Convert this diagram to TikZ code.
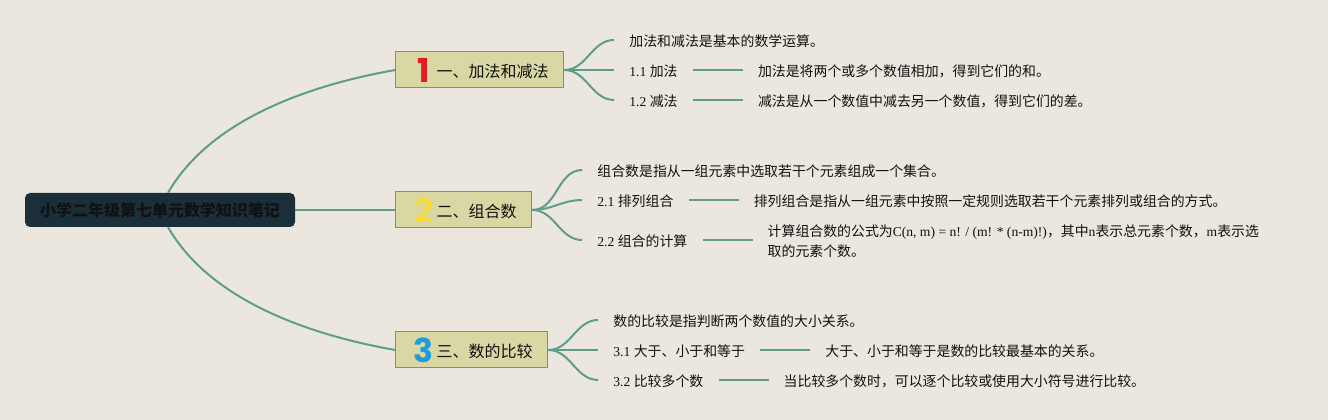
\documentclass[tikz,border=0pt]{standalone}
\usepackage{fontspec}
\usetikzlibrary{positioning}
\setmainfont{Liberation Serif}
\newfontfamily\zhfont{Noto Sans CJK SC}
\newfontfamily\numfont{Poppins}
\definecolor{paper}{HTML}{EBE7DF}
\definecolor{linegreen}{HTML}{5F9C8A}
\definecolor{rootfill}{HTML}{1A2F3A}
\definecolor{topicfill}{HTML}{D9D8A5}
\definecolor{inkblack}{HTML}{111111}
\definecolor{numred}{HTML}{E31B23}
\definecolor{numyellow}{HTML}{F4DC3E}
\definecolor{numblue}{HTML}{1E9BD8}
\newcommand{\topicnum}[2]{\makebox[26pt]{\smash{\raisebox{-4.5pt}{\numfont\fontsize{33}{33}\selectfont\bfseries\textcolor{#1}{#2}}}}}
\newcommand{\la}[1]{{\rmfamily\fontsize{13.6}{20}\selectfont #1}}

\begin{document}
\begin{tikzpicture}[x=1pt,y=1pt,
                    every edge/.style={draw=linegreen,line width=2pt},
                    root/.style={rectangle,rounded corners=5pt,fill=rootfill,text=inkblack,
                                 minimum width=270pt,minimum height=34pt,inner sep=0pt,
                                 font=\zhfont\fontsize{16}{20}\selectfont\bfseries},
                    topic/.style={rectangle,draw=linegreen,fill=topicfill,text=inkblack,
                                  line width=1pt,minimum height=36pt,inner xsep=15pt,inner ysep=0pt,
                                  text height=16pt,text depth=0pt,
                                  font=\zhfont\fontsize{16}{20}\selectfont},
                    leaf/.style={rectangle,text=inkblack,inner xsep=15pt,inner ysep=2pt,
                                 text height=14pt,text depth=0pt,
                                 font=\zhfont\fontsize{13.9}{20}\selectfont}]

  \fill[paper] (0,0) rectangle (1328,420);

  \node[root]  (root) at (160,210) {小学二年级第七单元数学知识笔记};

  \node[topic] (topicB) [right=100pt of root] {\topicnum{numyellow}{2}二、组合数};
  \node[topic] (topicA) [above=140pt of topicB.west, anchor=west] {\topicnum{numred}{1}一、加法和减法};
  \node[topic] (topicC) [below=140pt of topicB.west, anchor=west] {\topicnum{numblue}{3}三、数的比较};

  \node[leaf]  (a0) [above right=30pt and 50pt of topicA.east, anchor=west] {加法和减法是基本的数学运算。};
  \node[leaf]  (a1) [right=50pt of topicA] {\la{1.1 }加法};
  \node[leaf]  (a2) [below right=30pt and 50pt of topicA.east, anchor=west] {\la{1.2 }减法};
  \node[leaf]  (a1d) [right=50pt of a1] {加法是将两个或多个数值相加，得到它们的和。};
  \node[leaf]  (a2d) [right=50pt of a2] {减法是从一个数值中减去另一个数值，得到它们的差。};

  \node[leaf]  (b0) [above right=40pt and 50pt of topicB.east, anchor=west] {组合数是指从一组元素中选取若干个元素组成一个集合。};
  \node[leaf]  (b1) [above right=10pt and 50pt of topicB.east, anchor=west] {\la{2.1 }排列组合};
  \node[leaf]  (b2) [below right=30pt and 50pt of topicB.east, anchor=west] {\la{2.2 }组合的计算};
  \node[leaf]  (b1d) [right=50pt of b1] {排列组合是指从一组元素中按照一定规则选取若干个元素排列或组合的方式。};
  \node[leaf, align=left, text height=, text depth=] (b2d) [right=50pt of b2, yshift=-1.5pt] {计算组合数的公式为\la{C(n, m) = n! / (m! * (n-m)!)}，其中\la{n}表示总元素个数，\la{m}表示选\\取的元素个数。};

  \node[leaf]  (c0) [above right=30pt and 50pt of topicC.east, anchor=west] {数的比较是指判断两个数值的大小关系。};
  \node[leaf]  (c1) [right=50pt of topicC] {\la{3.1 }大于、小于和等于};
  \node[leaf]  (c2) [below right=30pt and 50pt of topicC.east, anchor=west] {\la{3.2 }比较多个数};
  \node[leaf]  (c1d) [right=50pt of c1] {大于、小于和等于是数的比较最基本的关系。};
  \node[leaf]  (c2d) [right=50pt of c2] {当比较多个数时，可以逐个比较或使用大小符号进行比较。};

  \path (root.east) edge (topicB.west);
  \path (root.65) edge[out=60,in=190,looseness=.85] (topicA.west);
  \path (root.-65) edge[out=-60,in=170,looseness=.85] (topicC.west);

  \path (topicA.east) edge[out=0,in=180] (a0.west);
  \path (topicA.east) edge (a1.west);
  \path (topicA.east) edge[out=0,in=180] (a2.west);
  \path (a1) edge (a1d);
  \path (a2) edge (a2d);

  \path (topicB.east) edge[out=0,in=180] (b0.west);
  \path (topicB.east) edge[out=0,in=180] (b1.west);
  \path (topicB.east) edge[out=0,in=180] (b2.west);
  \path (b1) edge (b1d);
  \path (b2.east) edge (b2d.west |- b2.east);

  \path (topicC.east) edge[out=0,in=180] (c0.west);
  \path (topicC.east) edge (c1.west);
  \path (topicC.east) edge[out=0,in=180] (c2.west);
  \path (c1) edge (c1d);
  \path (c2) edge (c2d);

  \useasboundingbox (0,0) rectangle (1328,420);
\end{tikzpicture}
\end{document}
